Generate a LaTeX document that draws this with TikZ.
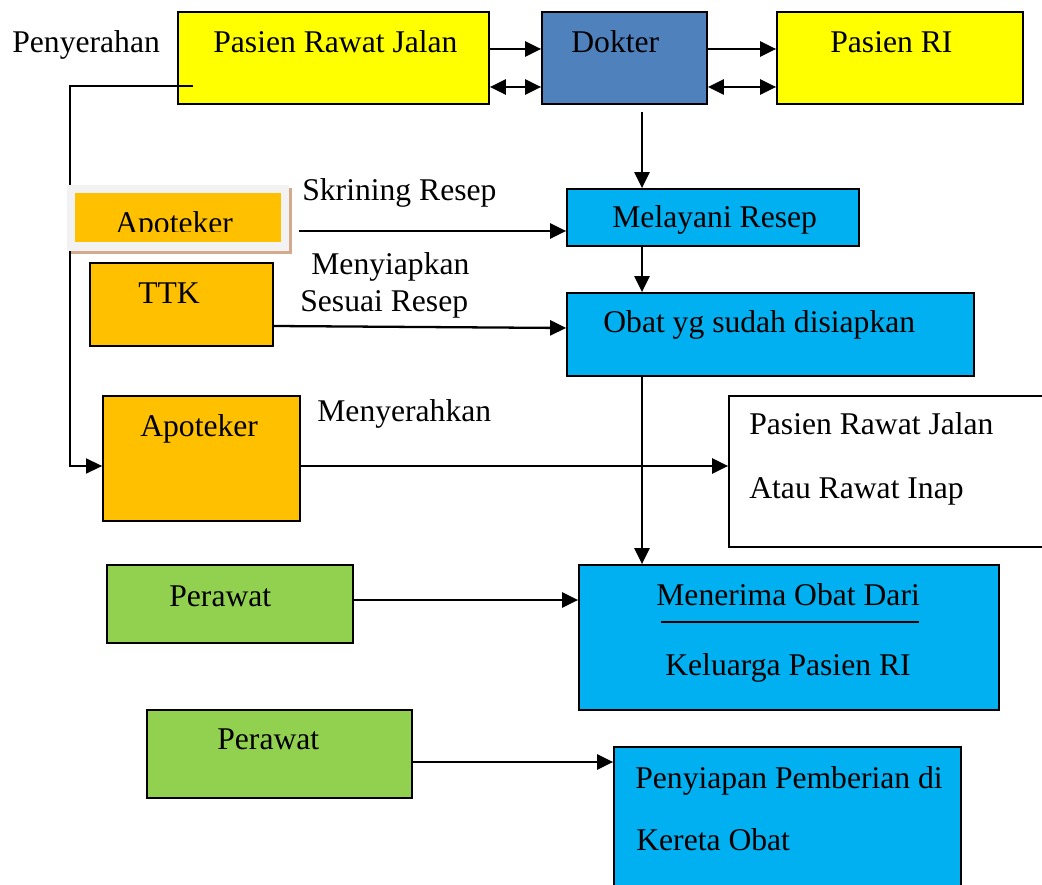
\documentclass[tikz,border=0pt]{standalone}
\usepackage{fontspec}
\setmainfont{Liberation Serif}
\usetikzlibrary{arrows.meta,fit,calc}
\definecolor{kuning}{HTML}{FFFF00}
\definecolor{biru}{HTML}{4F81BD}
\definecolor{birumuda}{HTML}{00B0F0}
\definecolor{oranye}{HTML}{FFC000}
\definecolor{hijau}{HTML}{92D050}
\definecolor{bayang}{HTML}{D4A98C}
\definecolor{bingkai}{HTML}{F2F2F2}
\begin{document}
\begin{tikzpicture}[x=0.02cm,y=-0.02cm,
    kotak/.style={draw,line width=1pt,inner sep=0pt},
    teks/.style={anchor=base west,inner sep=0pt,font=\fontsize{18}{22}\selectfont},
    panah/.style={line width=1.3pt,-{Triangle[length=0.32cm,width=0.3cm]}},
    panahdua/.style={line width=1.3pt,{Triangle[length=0.32cm,width=0.3cm]}-{Triangle[length=0.32cm,width=0.3cm]}}]
    \useasboundingbox (0,0) rectangle (1042,885);
    \clip (0,0) rectangle (1042,885);
    \node[kotak,fill=kuning,fit={(178,12) (489,104)}] (prj) {};
    \node[kotak,fill=biru,fit={(542,12) (707,104)}] (dokter) {};
    \node[kotak,fill=kuning,fit={(777,12) (1023,104)}] (pasienri) {};
    \node[kotak,fill=birumuda,fit={(567,189) (859,246)}] (melayani) {};
    \node[kotak,fill=oranye,fit={(90,263) (273,346)}] (ttk) {};
    \node[kotak,fill=birumuda,fit={(567,293) (974,376)}] (obat) {};
    \node[kotak,fill=oranye,fit={(103,396) (300,521)}] (apt2) {};
    \node[kotak,fit={(729,396) (1060,547)}] (pulang) {};
    \node[kotak,fill=hijau,fit={(107,565) (353,643)}] (perawat1) {};
    \node[kotak,fill=birumuda,fit={(579,565) (999,710)}] (menerima) {};
    \node[kotak,fill=hijau,fit={(147,710) (412,798)}] (perawat2) {};
    \node[kotak,fill=birumuda,fit={(614,747) (961,900)}] (penyiapan) {};
    \coordinate (pj) at (193,86);
    \draw[line width=0.8pt,-{Triangle[length=0.32cm,width=0.3cm]}] (pj) -| (70,466) -- (apt2.west |- 0,466);
    \fill[bayang] (71,188) rectangle (292,254);
    \fill[bingkai] (67,185) rectangle (289,251);
    \node[fill=oranye,inner sep=0pt,fit={(75,193) (281,242)}] (apt1) {};
    \begin{scope}
        \clip (75,193) rectangle (281,232);
        \node[teks] at (115,234) {Apoteker};
    \end{scope}
    \node[teks] at (12,53) {Penyerahan};
    \node[teks] at (213,53) {Pasien Rawat Jalan};
    \node[teks] at (571,53) {Dokter};
    \node[teks] at (830,53) {Pasien RI};
    \node[teks] at (302,201) {Skrining Resep};
    \node[teks] at (612,228) {Melayani Resep};
    \node[teks] at (311,275) {Menyiapkan};
    \node[teks] at (300,312) {Sesuai Resep};
    \node[teks] at (138,304) {TTK};
    \node[teks] at (603,333) {Obat yg sudah disiapkan};
    \node[teks] at (317,421) {Menyerahkan};
    \node[teks] at (140,437) {Apoteker};
    \node[teks] at (749,435) {Pasien Rawat Jalan};
    \node[teks] at (749,498) {Atau Rawat Inap};
    \node[teks] at (169,606) {Perawat};
    \node[teks] at (656,605) {Menerima Obat Dari};
    \draw[line width=1pt] (661,622) -- (919,622);
    \node[teks] at (665,675) {Keluarga Pasien RI};
    \node[teks] at (217,749) {Perawat};
    \node[teks] at (635,788) {Penyiapan Pemberian di};
    \node[teks] at (636,850) {Kereta Obat};
    \draw[panah] (prj.east |- 0,49) -- (dokter.west |- 0,49);
    \draw[panahdua] (prj.east |- 0,87) -- (dokter.west |- 0,87);
    \draw[panah] (dokter.east |- 0,49) -- (pasienri.west |- 0,49);
    \draw[panahdua] (dokter.east |- 0,87) -- (pasienri.west |- 0,87);
    \draw[panah] ($(dokter.south -| 642,0)+(0,7)$) -- (melayani.north -| 642,0);
    \draw[panah] ($(apt1.east |- 0,231)+(18,0)$) -- (melayani.west |- 0,231);
    \draw[panah] (melayani.south -| 642,0) -- (obat.north -| 642,0);
    \draw[panah] (ttk.east |- 0,326) -- (obat.west |- 0,328);
    \draw[panah] (obat.south -| 642,0) -- (menerima.north -| 642,0);
    \draw[panah] (apt2.east |- 0,466) -- (pulang.west |- 0,466);
    \draw[panah] (perawat1.east |- 0,600) -- (menerima.west |- 0,600);
    \draw[panah] (perawat2.east |- 0,762) -- (penyiapan.west |- 0,762);
\end{tikzpicture}
\end{document}
